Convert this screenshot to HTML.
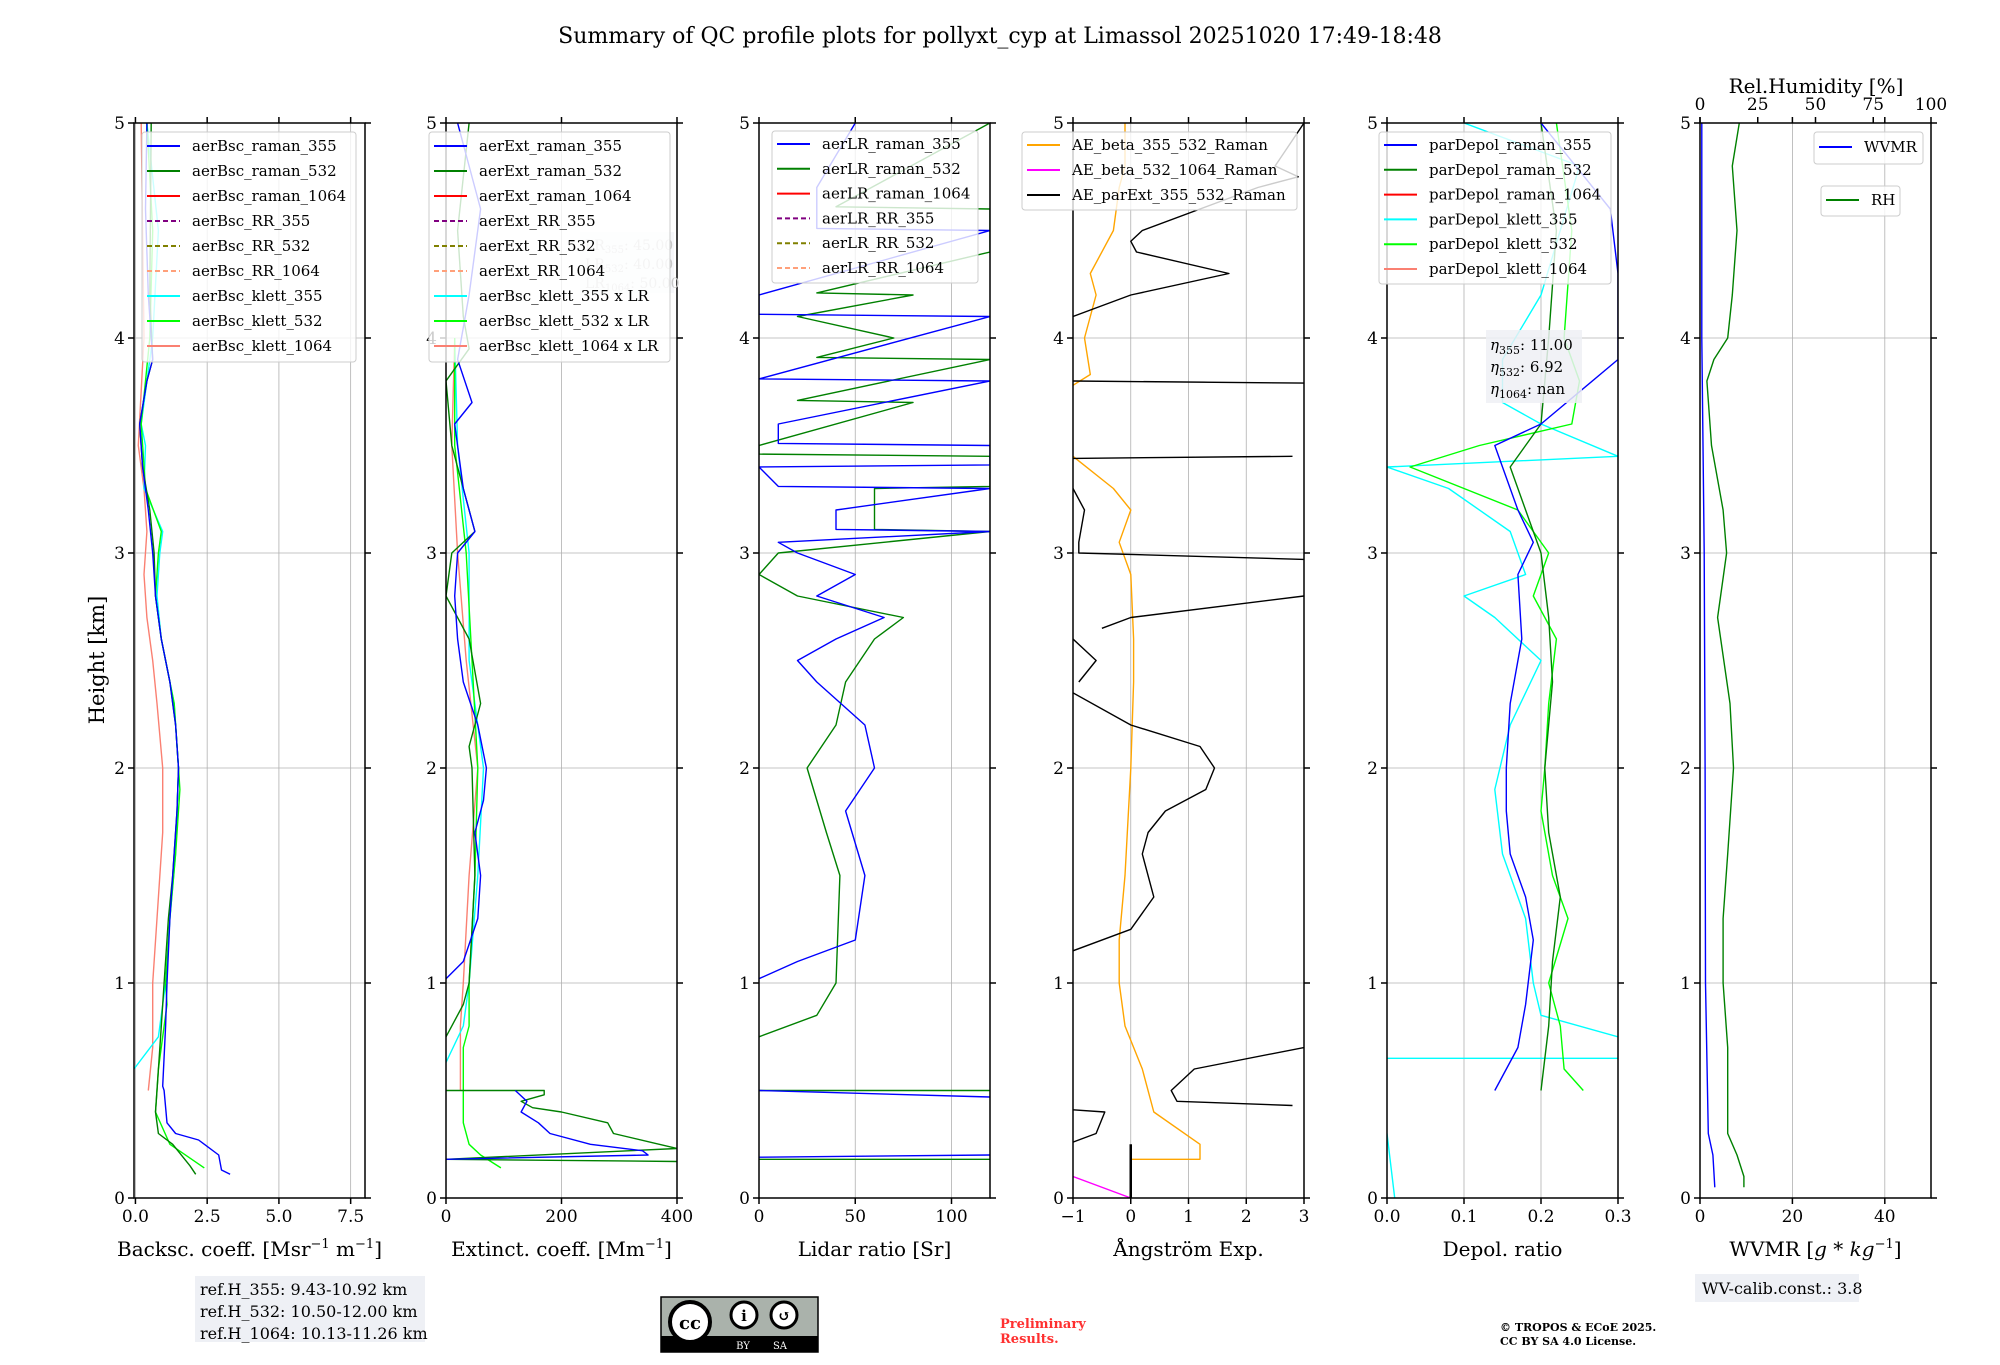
<!DOCTYPE html>
<html><head><meta charset="utf-8">
<style>
html,body{margin:0;padding:0;background:#fff;}
svg text{font-family:"DejaVu Serif","Liberation Serif",serif;}
</style></head>
<body>
<svg id="fig" xmlns="http://www.w3.org/2000/svg" width="2000" height="1360" viewBox="0 0 2000 1360">
<rect width="2000" height="1360" fill="#fff"/>
<text x="1000" y="43" font-size="22" text-anchor="middle">Summary of QC profile plots for pollyxt_cyp at Limassol 20251020 17:49-18:48</text>
<text transform="translate(104,660) rotate(-90)" font-size="21" text-anchor="middle">Height [km]</text>
<g id="plots"></g>
<g>
<rect x="195" y="1276" width="230" height="66" fill="#eef0f5"/>
<text x="200" y="1295" font-size="16">ref.H_355: 9.43-10.92 km</text>
<text x="200" y="1317" font-size="16">ref.H_532: 10.50-12.00 km</text>
<text x="200" y="1339" font-size="16">ref.H_1064: 10.13-11.26 km</text>
</g>
<g>
<rect x="661" y="1297" width="157" height="55" fill="#aab2ab" stroke="#000" stroke-width="1.5"/>
<rect x="661" y="1336" width="157" height="16" fill="#000"/>
<circle cx="690" cy="1322" r="20" fill="#fff" stroke="#000" stroke-width="4"/>
<text x="690" y="1329" font-size="18" font-weight="bold" text-anchor="middle" font-family="Liberation Sans,sans-serif">cc</text>
<circle cx="744" cy="1315" r="13" fill="#fff" stroke="#000" stroke-width="3"/>
<text x="744" y="1321" font-size="15" font-weight="bold" text-anchor="middle">i</text>
<circle cx="784" cy="1315" r="13" fill="#fff" stroke="#000" stroke-width="3"/>
<text x="784" y="1321" font-size="15" font-weight="bold" text-anchor="middle">↺</text>
<text x="743" y="1349" font-size="10" fill="#fff" text-anchor="middle" font-family="Liberation Sans,sans-serif">BY</text>
<text x="780" y="1349" font-size="10" fill="#fff" text-anchor="middle" font-family="Liberation Sans,sans-serif">SA</text>
</g>
<text x="1000" y="1328" font-size="13" font-weight="bold" fill="#ff3030">Preliminary</text>
<text x="1000" y="1343" font-size="13" font-weight="bold" fill="#ff3030">Results.</text>
<text x="1500" y="1331" font-size="11" font-weight="bold">© TROPOS &amp; ECoE 2025.</text>
<text x="1500" y="1345" font-size="11" font-weight="bold">CC BY SA 4.0 License.</text>
<g>
<rect x="1695" y="1274" width="164" height="28" fill="#eef0f5"/>
<text x="1702" y="1294" font-size="16">WV-calib.const.: 3.8</text>
</g>
</svg>
<script>
// ---------- data (height km / value) ----------
const bsc355H=[0.11,0.13,0.2,0.27,0.3,0.35,0.5,0.52,0.8,1.0,1.3,1.5,1.8,2.0,2.2,2.4,2.6,2.8,3.0,3.2,3.4,3.6,3.8,3.9,4.2,4.6,5.0];
const bsc355V=[3.3,3.0,2.9,2.2,1.4,1.1,1.0,0.95,1.05,1.1,1.2,1.3,1.45,1.5,1.4,1.2,0.9,0.7,0.6,0.45,0.25,0.15,0.4,0.6,0.45,0.35,0.4];
const bsc532H=[0.11,0.15,0.25,0.3,0.4,0.5,0.8,1.0,1.3,1.5,1.8,2.0,2.2,2.4,2.6,2.8,3.0,3.2,3.4,3.6,3.8,3.9,4.2,5.0];
const bsc532V=[2.1,1.9,1.3,0.8,0.7,0.75,0.9,1.0,1.15,1.3,1.45,1.5,1.4,1.2,0.9,0.7,0.65,0.5,0.25,0.15,0.4,0.6,0.5,0.55];
const bscK532H=[0.14,0.25,0.4,0.6,0.9,1.0,1.3,1.6,1.9,2.0,2.3,2.6,2.8,3.0,3.1,3.3,3.6,4.0,4.5,5.0];
const bscK532V=[2.4,1.2,0.7,0.8,1.1,1.05,1.2,1.4,1.55,1.5,1.35,0.9,0.7,0.8,0.9,0.35,0.2,0.5,0.6,0.4];
const bscK355H=[0.6,0.75,1.0,1.3,1.6,2.0,2.3,2.6,2.8,3.0,3.1,3.3,3.5,3.6,4.0,4.5,5.0];
const bscK355V=[-0.05,0.8,1.05,1.2,1.4,1.5,1.35,0.9,0.75,0.85,0.95,0.3,0.35,0.2,0.6,0.8,0.4];
const bscK1064H=[0.5,0.7,1.0,1.3,1.7,2.0,2.3,2.5,2.7,2.9,3.1,3.3,3.5,4.0,4.5,5.0];
const bscK1064V=[0.45,0.6,0.6,0.75,0.95,0.95,0.75,0.6,0.4,0.3,0.4,0.3,0.1,0.3,0.25,0.2];

const ext355H=[0.18,0.2,0.22,0.25,0.3,0.35,0.4,0.45,0.5,null,1.02,1.1,1.3,1.5,1.7,1.85,2.0,2.2,2.4,2.6,2.8,3.0,3.1,3.3,3.6,3.7,3.9,4.2,4.6,5.0];
const ext355V=[0,350,340,250,180,160,130,140,120,null,0,30,55,60,50,65,70,55,30,20,15,20,50,30,15,45,20,40,60,20];
const ext532H=[0.17,0.18,0.23,0.3,0.35,0.4,0.42,0.45,0.48,0.5,0.5,null,0.75,0.9,1.0,1.5,2.0,2.1,2.3,2.6,2.8,3.0,3.1,3.3,3.5,3.8,3.95,4.1,4.5,5.0];
const ext532V=[400,0,400,290,280,200,150,130,170,170,0,null,0,30,40,50,45,40,60,40,0,10,50,30,10,0,40,30,20,40];
const extK532H=[0.14,0.2,0.25,0.35,0.5,0.7,0.8,1.0,1.5,2.0,2.5,3.0,3.5,4.0];
const extK532V=[95,60,40,30,30,30,40,40,50,55,45,35,15,15];
const extK355H=[0.63,0.8,1.0,1.5,2.0,2.5,3.0,3.5,4.0];
const extK355V=[0,30,40,55,65,40,40,20,15];
const extK1064H=[0.5,0.8,1.0,1.5,2.0,2.5,3.0,3.5,4.0];
const extK1064V=[25,25,30,40,55,35,20,10,15];

const lr355H=[0.19,0.2,null,0.47,0.5,null,1.02,1.1,1.2,1.5,1.8,2.0,2.2,2.4,2.5,2.6,2.7,2.8,2.9,3.0,3.05,3.1,3.11,3.2,3.3,3.31,3.4,3.41,3.5,3.51,3.6,3.8,3.81,4.1,4.11,4.2,4.5,4.51,4.7,5.0];
const lr355V=[0,120,null,120,0,null,0,20,50,55,45,60,55,30,20,40,65,30,50,20,10,120,40,40,120,10,0,120,120,10,10,120,0,120,0,0,120,30,30,50];
const lr532H=[0.18,0.18,null,0.5,0.5,null,0.75,0.85,1.0,1.5,1.7,2.0,2.2,2.4,2.6,2.7,2.8,2.9,3.0,3.1,3.11,3.3,3.31,3.45,3.46,3.5,3.7,3.71,3.9,3.91,4.0,4.1,4.2,4.21,4.4,4.6,4.61,5.0];
const lr532V=[0,120,null,0,120,null,0,30,40,42,35,25,40,45,60,75,20,0,10,120,60,60,120,120,0,0,80,20,120,30,70,20,80,30,120,120,40,120];

const aeBH=[0.18,0.18,0.25,0.4,0.6,0.8,1.0,1.2,1.5,2.0,2.4,2.6,2.9,3.05,3.2,3.3,3.45,null,3.78,3.83,4.0,4.2,4.3,4.5,4.7,4.8,5.0];
const aeBV=[0,1.2,1.2,0.4,0.2,-0.1,-0.2,-0.2,-0.1,0,0.05,0.05,0,-0.2,0,-0.3,-1,null,-1,-0.7,-0.8,-0.6,-0.7,-0.3,-0.2,-0.1,-0.1];
const aeB2H=[0,0.1];
const aeB2V=[0,-1];
const aeExtH=[0.26,0.3,0.4,0.41,null,0.43,0.45,0.5,0.6,0.7,null,1.15,1.25,1.4,1.6,1.7,1.8,1.9,2.0,2.1,2.2,2.35,null,2.4,2.5,2.6,null,2.65,2.7,2.8,null,2.97,3.0,3.05,3.2,3.3,null,3.44,3.45,null,3.8,3.79,null,4.1,4.2,4.3,4.4,4.45,4.5,4.7,4.75,4.8,5.0];
const aeExtV=[-1,-0.6,-0.45,-1,null,2.8,0.8,0.7,1.1,3.0,null,-1,0,0.4,0.2,0.3,0.6,1.3,1.45,1.2,0,-1,null,-0.9,-0.6,-1,null,-0.5,0,3,null,3,-0.9,-0.9,-0.8,-1,null,-1,2.8,null,-1,3,null,-1,0,1.7,0.1,0,0.2,2.2,2.9,2.5,3];

const dp355H=[0.5,0.7,0.9,1.2,1.4,1.6,1.8,2.0,2.3,2.6,2.9,3.05,3.2,3.4,3.5,3.6,3.9,4.3,4.6,5.0];
const dp355V=[0.14,0.17,0.18,0.19,0.18,0.16,0.155,0.155,0.16,0.175,0.17,0.19,0.17,0.15,0.14,0.2,0.3,0.3,0.29,0.2];
const dp532H=[0.5,0.8,1.1,1.4,1.7,2.0,2.4,2.7,3.0,3.2,3.4,3.6,4.0,4.5,5.0];
const dp532V=[0.2,0.21,0.215,0.225,0.21,0.205,0.215,0.21,0.2,0.18,0.16,0.2,0.21,0.22,0.2];
const dpK532H=[0.5,0.6,0.8,1.0,1.3,1.5,1.8,2.0,2.3,2.6,2.8,3.0,3.2,3.4,3.5,3.6,3.8,4.0,4.5,5.0];
const dpK532V=[0.255,0.23,0.225,0.21,0.235,0.215,0.2,0.205,0.21,0.22,0.19,0.21,0.17,0.03,0.12,0.24,0.25,0.23,0.24,0.22];
const dpK355H=[0,0.3,null,0.65,0.65,null,0.75,0.85,1.0,1.3,1.6,1.9,2.2,2.5,2.7,2.8,2.9,3.1,3.3,3.4,3.45,3.6,3.7,3.9,4.2,4.8,5.0];
const dpK355V=[0.01,0.0,null,0,0.3,null,0.3,0.2,0.19,0.18,0.15,0.14,0.16,0.2,0.14,0.1,0.18,0.16,0.08,0.0,0.3,0.2,0.15,0.15,0.2,0.25,0.1];

const wvH=[0.05,0.2,0.3,1.0,2.0,3.0,4.0,5.0];
const wvV=[3.2,2.8,1.8,1.2,1.1,0.9,0.4,0.4];
const rhH=[0.05,0.1,0.2,0.3,0.7,1.0,1.3,1.6,2.0,2.3,2.7,3.0,3.2,3.5,3.8,3.9,4.0,4.2,4.5,4.8,5.0];
const rhV=[19,19,16,12,12,10,10,12,14.5,13,7.6,11.5,10,5,3,6,12,14,16,14,17];

// ---------- layout ----------
const Y0=1198, YK=215;
const SVGNS="http://www.w3.org/2000/svg";
const root=document.getElementById('plots');
function el(tag,attrs,parent){const e=document.createElementNS(SVGNS,tag);for(const k in attrs)e.setAttribute(k,attrs[k]);(parent||root).appendChild(e);return e;}
function yS(h){return Y0-h*YK;}
function makeX(left,w,mn,mx){return v=>left+(v-mn)/(mx-mn)*w;}
const W=231;

function drawLine(g,xs,H,V,color,width,name){
  let d='',pen=false;
  for(let i=0;i<H.length;i++){
    if(H[i]===null||V[i]===null){pen=false;continue;}
    d+=(pen?'L':'M')+xs(V[i]).toFixed(1)+' '+yS(H[i]).toFixed(1)+' ';pen=true;
  }
  const p=el('path',{d:d,fill:'none',stroke:color,'stroke-width':width,'stroke-linejoin':'round'},g);
  
  
  return p;
}

function axes(name,left,mn,mx,ticks,tlabels,xlabel){
  const g=el('g',{});
  
  
  const xs=makeX(left,W,mn,mx);
  const clip=el('clipPath',{id:'c'+name},g);
  el('rect',{x:left,y:yS(5),width:W,height:5*YK},clip);
  for(let i=0;i<ticks.length;i++){const x=xs(ticks[i]);
    if(x>left+1&&x<left+W-1){const gl=el('line',{x1:x,x2:x,y1:yS(5),y2:Y0,stroke:'#b0b0b0','stroke-width':0.8},g);
      }}
  for(let h=1;h<5;h++){const gl=el('line',{x1:left,x2:left+W,y1:yS(h),y2:yS(h),stroke:'#b0b0b0','stroke-width':0.8},g);
    }
  const plot=el('g',{'clip-path':'url(#c'+name+')'},g);
  
  
  for(let i=0;i<ticks.length;i++){const x=xs(ticks[i]);
    el('line',{x1:x,x2:x,y1:Y0,y2:Y0+6,stroke:'#000','stroke-width':1.5},g);
    el('line',{x1:x,x2:x,y1:yS(5),y2:yS(5)-6,stroke:'#000','stroke-width':1.5},g);
    const t=el('text',{x:x,y:Y0+24,'font-size':17,'text-anchor':'middle'},g);t.textContent=tlabels[i];
    }
  for(let h=0;h<=5;h++){
    el('line',{x1:left-6,x2:left,y1:yS(h),y2:yS(h),stroke:'#000','stroke-width':1.5},g);
    el('line',{x1:left+W,x2:left+W+6,y1:yS(h),y2:yS(h),stroke:'#000','stroke-width':1.5},g);
    const t=el('text',{x:left-9,y:yS(h)+6,'font-size':17,'text-anchor':'end'},g);t.textContent=String(h);
    }
  const xl=el('text',{x:left+W/2,y:1256,'font-size':20,'text-anchor':'middle'},g);xl.innerHTML=xlabel;
  
  return {g,plot,xs,left};
}
function frame(a){const r=el('rect',{x:a.left,y:yS(5),width:W,height:5*YK,fill:'none',stroke:'#000','stroke-width':1.5},a.g);
  }
function legend(g,x,y,w,entries,first,step,name){
  const lg=el('g',{},g);
  
  
  el('rect',{x:x,y:y,width:w,height:(entries.length)*step+(first-y)*2-step+2,rx:3,fill:'#fff','fill-opacity':0.8,stroke:'#ccc','stroke-width':1},lg);
  entries.forEach((e,i)=>{const yy=first+i*step;
    const ln=el('line',{x1:x+5,x2:x+38,y1:yy,y2:yy,stroke:e[1],'stroke-width':2},lg);
    if(e[2])ln.setAttribute('stroke-dasharray','5,3');
    const t=el('text',{x:x+50,y:yy+5,'font-size':15},lg);t.textContent=e[0];
    });
}
const LW=1.4;

const a1=axes('backscatter-panel',134,-0.05,8,[0,2.5,5,7.5],['0.0','2.5','5.0','7.5'],'Backsc. coeff. [Msr<tspan dy="-8" font-size="13">−1</tspan><tspan dy="8"> m</tspan><tspan dy="-8" font-size="13">−1</tspan><tspan dy="8">]</tspan>');
drawLine(a1.plot,a1.xs,bscK1064H,bscK1064V,'#fa8072',LW,'bsc-klett-1064');
drawLine(a1.plot,a1.xs,bscK355H,bscK355V,'#00ffff',LW,'bsc-klett-355');
drawLine(a1.plot,a1.xs,bscK532H,bscK532V,'#00ff00',LW,'bsc-klett-532');
drawLine(a1.plot,a1.xs,bsc532H,bsc532V,'#008000',LW,'bsc-raman-532');
drawLine(a1.plot,a1.xs,bsc355H,bsc355V,'#0000ff',LW,'bsc-raman-355');
frame(a1);
legend(a1.g,142,132,214,[['aerBsc_raman_355','#0000ff'],['aerBsc_raman_532','#008000'],['aerBsc_raman_1064','#ff0000'],['aerBsc_RR_355','#800080',1],['aerBsc_RR_532','#808000',1],['aerBsc_RR_1064','#ffa07a',1],['aerBsc_klett_355','#00ffff'],['aerBsc_klett_532','#00ff00'],['aerBsc_klett_1064','#fa8072']],146,25,'backscatter-legend');

const a2=axes('extinction-panel',446,0,400,[0,200,400],['0','200','400'],'Extinct. coeff. [Mm<tspan dy="-8" font-size="13">−1</tspan><tspan dy="8">]</tspan>');
drawLine(a2.plot,a2.xs,extK1064H,extK1064V,'#fa8072',LW,'ext-klett-1064');
drawLine(a2.plot,a2.xs,extK355H,extK355V,'#00ffff',LW,'ext-klett-355');
drawLine(a2.plot,a2.xs,extK532H,extK532V,'#00ff00',LW,'ext-klett-532');
drawLine(a2.plot,a2.xs,ext532H,ext532V,'#008000',LW,'ext-raman-532');
drawLine(a2.plot,a2.xs,ext355H,ext355V,'#0000ff',LW,'ext-raman-355');
frame(a2);
(function(){const b=el('g',{},a2.g);
 
 el('rect',{x:580,y:232,width:94,height:61,fill:'#eef0f5','fill-opacity':0.5},b);
 ['LR<tspan font-size="10" dy="3">355</tspan><tspan dy="-3">: 45.00</tspan>','LR<tspan font-size="10" dy="3">532</tspan><tspan dy="-3">: 40.00</tspan>','LR<tspan font-size="10" dy="3">1064</tspan><tspan dy="-3">: 50.00</tspan>'].forEach((s,i)=>{const t=el('text',{x:585,y:250+i*19,'font-size':14,fill:'#c8c8c8'},b);t.innerHTML=s;});})();
legend(a2.g,429,132,241,[['aerExt_raman_355','#0000ff'],['aerExt_raman_532','#008000'],['aerExt_raman_1064','#ff0000'],['aerExt_RR_355','#800080',1],['aerExt_RR_532','#808000',1],['aerExt_RR_1064','#ffa07a',1],['aerBsc_klett_355 x LR','#00ffff'],['aerBsc_klett_532 x LR','#00ff00'],['aerBsc_klett_1064 x LR','#fa8072']],146,25,'extinction-legend');

const a3=axes('lidar-ratio-panel',759,0,120,[0,50,100],['0','50','100'],'Lidar ratio [Sr]');
drawLine(a3.plot,a3.xs,lr532H,lr532V,'#008000',LW,'lr-raman-532');
drawLine(a3.plot,a3.xs,lr355H,lr355V,'#0000ff',LW,'lr-raman-355');
frame(a3);
legend(a3.g,772,131,206,[['aerLR_raman_355','#0000ff'],['aerLR_raman_532','#008000'],['aerLR_raman_1064','#ff0000'],['aerLR_RR_355','#800080',1],['aerLR_RR_532','#808000',1],['aerLR_RR_1064','#ffa07a',1]],144,24.8,'lidar-ratio-legend');

const a4=axes('angstrom-panel',1073,-1,3,[-1,0,1,2,3],['−1','0','1','2','3'],'Ångström Exp.');
drawLine(a4.plot,a4.xs,aeBH,aeBV,'#ffa500',LW,'ae-beta-355-532');
drawLine(a4.plot,a4.xs,aeB2H,aeB2V,'#ff00ff',LW,'ae-beta-532-1064');
drawLine(a4.plot,a4.xs,aeExtH,aeExtV,'#000000',LW,'ae-parext-355-532');
(function(){const l=el('line',{x1:a4.xs(0),x2:a4.xs(0),y1:yS(0),y2:yS(0.25),stroke:'#000','stroke-width':2.5},a4.g);
 })();
frame(a4);
legend(a4.g,1022,132,275,[['AE_beta_355_532_Raman','#ffa500'],['AE_beta_532_1064_Raman','#ff00ff'],['AE_parExt_355_532_Raman','#000000']],145,25,'angstrom-legend');

const a5=axes('depol-panel',1387,0,0.3,[0,0.1,0.2,0.3],['0.0','0.1','0.2','0.3'],'Depol. ratio');
drawLine(a5.plot,a5.xs,dpK355H,dpK355V,'#00ffff',LW,'depol-klett-355');
drawLine(a5.plot,a5.xs,dpK532H,dpK532V,'#00ff00',LW,'depol-klett-532');
drawLine(a5.plot,a5.xs,dp532H,dp532V,'#008000',LW,'depol-raman-532');
drawLine(a5.plot,a5.xs,dp355H,dp355V,'#0000ff',LW,'depol-raman-355');
frame(a5);
legend(a5.g,1379,132,232,[['parDepol_raman_355','#0000ff'],['parDepol_raman_532','#008000'],['parDepol_raman_1064','#ff0000'],['parDepol_klett_355','#00ffff'],['parDepol_klett_532','#00ff00'],['parDepol_klett_1064','#fa8072']],145,24.8,'depol-legend');
(function(){const b=el('g',{},a5.g);
 
 el('rect',{x:1486,y:330,width:96,height:73,fill:'#eef0f5','fill-opacity':0.85},b);
 ['<tspan font-style="italic">η</tspan><tspan font-size="11" dy="4">355</tspan><tspan dy="-4">: 11.00</tspan>','<tspan font-style="italic">η</tspan><tspan font-size="11" dy="4">532</tspan><tspan dy="-4">: 6.92</tspan>','<tspan font-style="italic">η</tspan><tspan font-size="11" dy="4">1064</tspan><tspan dy="-4">: nan</tspan>'].forEach((s,i)=>{const t=el('text',{x:1490,y:350+i*22,'font-size':15},b);t.innerHTML=s;});})();

const a6=axes('wvmr-panel',1700,0,50,[0,20,40],['0','20','40'],'WVMR [<tspan font-style="italic">g</tspan> * <tspan font-style="italic">kg</tspan><tspan dy="-8" font-size="13">−1</tspan><tspan dy="8">]</tspan>');
const xsRH=makeX(1700,W,0,100);
drawLine(a6.plot,xsRH,rhH,rhV,'#008000',LW,'rh-profile');
drawLine(a6.plot,a6.xs,wvH,wvV,'#0000ff',LW,'wvmr-profile');
frame(a6);
[0,25,50,75,100].forEach(v=>{const t=el('text',{x:xsRH(v),y:110,'font-size':17,'text-anchor':'middle'},a6.g);t.textContent=String(v);
 
 el('line',{x1:xsRH(v),x2:xsRH(v),y1:yS(5),y2:yS(5)-6,stroke:'#000','stroke-width':1.5},a6.g);});
(function(){const t=el('text',{x:1816,y:93,'font-size':20,'text-anchor':'middle'},a6.g);t.textContent='Rel.Humidity [%]';
 })();
legend(a6.g,1814,132,109,[['WVMR','#0000ff']],147,25,'wvmr-legend');
legend(a6.g,1821,186,79,[['RH','#008000']],200,25,'rh-legend');
</script>
</body></html>
